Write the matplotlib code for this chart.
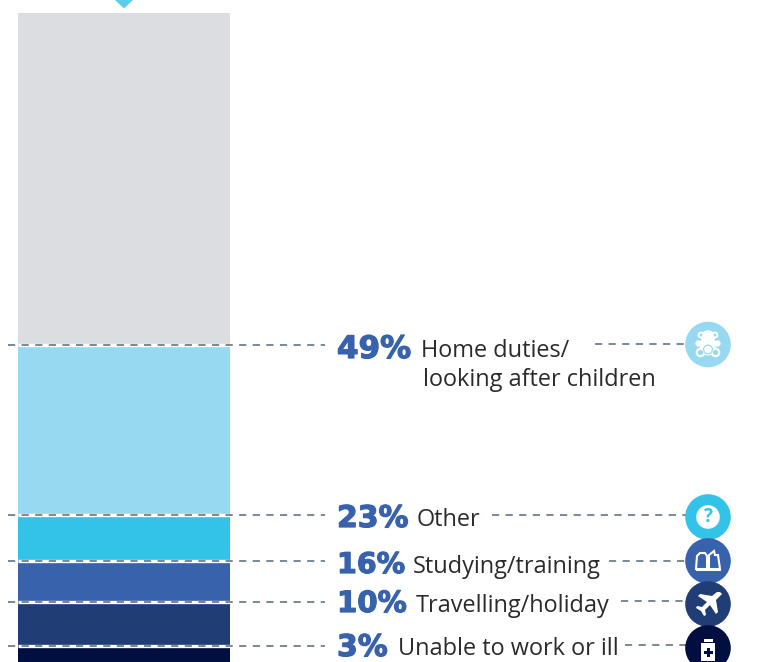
import numpy as np
import matplotlib
matplotlib.use("Agg")
import matplotlib.pyplot as plt
import matplotlib.patheffects as pe
from matplotlib.patches import Circle, Polygon, Rectangle

W, H = 768, 662

# Segment data, bottom to top (heights as drawn in the reference)
categories = ["Unable to work or ill", "Travelling/holiday", "Studying/training", "Other", "Home duties/\nlooking after children", "Rest"]
segment_heights = [16.5, 44, 40.5, 46, 170.5, 331.5]
segment_colors = ["#000f3f", "#203d75", "#3862ac", "#33c3e8", "#96d9f1", "#dcdde1"]

pct_labels = ["3%", "10%", "16%", "23%", "49%"]
text_labels = ["Unable to work or ill", "Travelling/holiday", "Studying/training", "Other", "Home duties/"]
second_line = "looking after children"

pct_baseline = [656, 612, 573, 527, 358]
pct_size = [21.5, 21, 20.5, 21.5, 22.3]
label_x = [398, 416, 413, 417, 421]
label_baseline = [655, 612, 573, 526, 357]
dash_right_start = [625, 621, 609, 492, 595]
icon_y = [648, 604, 561, 517, 344.5]

fig = plt.figure(figsize=(W / 100, H / 100), dpi=100)
ax = fig.add_axes([0, 0, 1, 1])
ax.set_xlim(0, W)
ax.set_ylim(H, 0)
ax.axis("off")

BAR_X, BAR_W = 124, 212
heights = np.array(segment_heights)
bottoms = H - np.concatenate([[0], np.cumsum(heights)[:-1]])
ax.bar([BAR_X] * len(heights), -heights, width=BAR_W, bottom=bottoms, color=segment_colors, linewidth=0, zorder=1)

# Triangle marker above the bar
ax.add_patch(Polygon([(115, 0), (133, 0), (124, 8.5)], closed=True, fc="#5ccbec", ec="none", zorder=1))

line_color = "#566779"
dash = (0, (4.7, 4.2))
LW = 1.1
tops = bottoms - heights
for i, top in enumerate(tops[:-1]):
    ax.plot([18, 230], [top, top], color="white", lw=2.4, solid_capstyle="butt", zorder=2)
    ax.plot([8, 325], [top, top], color=line_color, lw=LW, ls=dash, zorder=3)
    ax.plot([dash_right_start[i], 686], [top - 0.5, top - 0.5], color=line_color, lw=LW, ls=dash, zorder=3)

pct_color = "#3862ac"
text_color = "#2b2b2e"
for i in range(5):
    ax.text(337, pct_baseline[i], pct_labels[i], color=pct_color, fontsize=pct_size[i], fontweight="bold",
            family="DejaVu Sans", va="baseline", ha="left", zorder=5,
            path_effects=[pe.withStroke(linewidth=0.9, foreground=pct_color)])
    ax.text(label_x[i], label_baseline[i], text_labels[i], color=text_color, fontsize=16.9,
            family="Open Sans", va="baseline", ha="left", zorder=5)
ax.text(423, 386, second_line, color=text_color, fontsize=16.9, family="Open Sans", va="baseline", ha="left", zorder=5)

# Icons
ICON_X, R = 708, 22.8
icon_colors = segment_colors[:5]
z = {4: 6, 3: 7, 2: 8, 1: 9, 0: 10}
for i in range(5):
    ax.add_patch(Circle((ICON_X, icon_y[i]), R, fc=icon_colors[i], ec="none", zorder=z[i]))


def wc(x, y, r, fc="white", zo=11):
    ax.add_patch(Circle((x, y), r, fc=fc, ec="none", zorder=zo))


# Teddy bear
cy = icon_y[4]
c4 = icon_colors[4]
for dx, dy, r in [(-7, -9.5, 3.4), (7, -9.5, 3.4), (0, -7, 7.2), (-9.5, -1, 3.2), (9.5, -1, 3.2),
                  (-6, -1, 3), (6, -1, 3), (0, 3, 8), (-7.5, 8, 4.8), (7.5, 8, 4.8)]:
    wc(ICON_X + dx, cy + dy, r)
for dx, dy, r in [(-7.5, 8, 2.6), (7.5, 8, 2.6), (-7, -9.5, 1.4), (7, -9.5, 1.4)]:
    wc(ICON_X + dx, cy + dy, r, fc=c4, zo=12)
wc(ICON_X, cy + 5, 5, fc=c4, zo=12)
wc(ICON_X, cy + 5, 3.8, zo=13)

# Question mark
cy = icon_y[3]
wc(ICON_X, cy, 11.8)
ax.text(ICON_X, cy + 0.3, "?", color=icon_colors[3], fontsize=13.5, fontweight="bold", family="Open Sans",
        ha="center", va="center", zorder=12)

# Book
cy = icon_y[2]
left_page = [(-12, 8), (-11, -5), (-8, -8), (-3, -8), (-1, -5), (-1, 8)]
right_page = [(1, 8), (1, -6), (6, -10), (7, -6), (10, -6), (12, 8)]
for page in (left_page, right_page):
    ax.add_patch(Polygon([(ICON_X + a, cy + b) for a, b in page], closed=True, fc="none", ec="white", lw=1.5, zorder=11))
ax.add_patch(Rectangle((ICON_X - 12.5, cy + 7.5), 25, 2.5, fc="white", ec="none", zorder=11))

# Plane
cy = icon_y[1]
pts = [(12, -12), (14, -10), (8, -4), (10, 8), (8, 10), (2, 1), (-3, 6), (-2, 11), (-4, 12), (-7, 7), (-12, 4),
       (-11, 2), (-6, 3), (-1, -2), (-10, -8), (-8, -10), (4, -8), (9, -12)]
ax.add_patch(Polygon([(ICON_X + a, cy + b) for a, b in pts], closed=True, fc="white", ec="none", zorder=11))

# Medicine bottle
cy = icon_y[0]
ax.add_patch(Rectangle((ICON_X - 4.5, cy - 9), 9, 3, fc="white", ec="none", zorder=11))
ax.add_patch(Rectangle((ICON_X - 7, cy - 5), 14, 18, fc="white", ec="none", zorder=11))
ax.add_patch(Rectangle((ICON_X - 4.5, cy + 2.5), 9, 3, fc=icon_colors[0], ec="none", zorder=12))
ax.add_patch(Rectangle((ICON_X - 1.5, cy - 0.5), 3, 9, fc=icon_colors[0], ec="none", zorder=12))

fig.savefig("out.png", dpi=100, facecolor="white")
